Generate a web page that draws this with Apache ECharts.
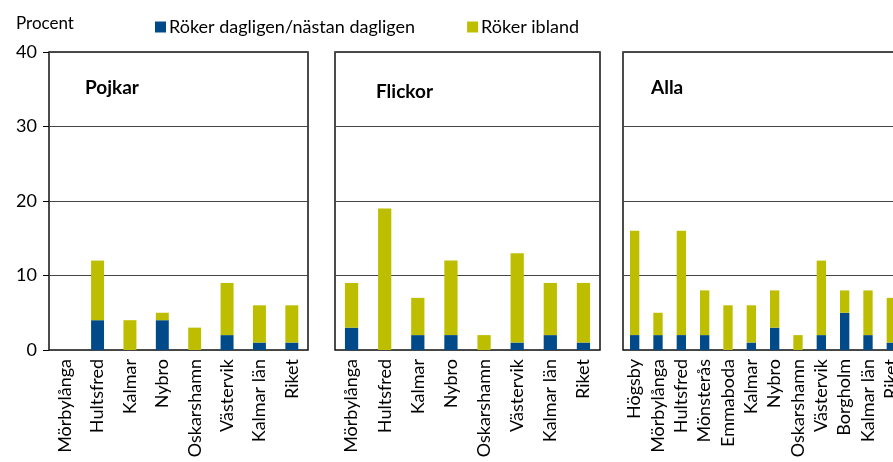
<!DOCTYPE html>
<html>
<head>
<meta charset="utf-8">
<script src="https://cdn.jsdelivr.net/npm/echarts@6/dist/echarts.min.js"></script>
<style>
  html, body { margin: 0; padding: 0; background: #fff; overflow: hidden; }
  #main { width: 910px; height: 462px; }
</style>
</head>
<body>
<div id="main"></div>
<script>
// data (percent)
const pojkarKommuner = ['Mörbylånga', 'Hultsfred', 'Kalmar', 'Nybro', 'Oskarshamn', 'Västervik', 'Kalmar län', 'Riket']
const pojkarDaglig = [0, 4, 0, 4, 0, 2, 1, 1]
const pojkarIbland = [0, 8, 4, 1, 3, 7, 5, 5]

const flickorKommuner = ['Mörbylånga', 'Hultsfred', 'Kalmar', 'Nybro', 'Oskarshamn', 'Västervik', 'Kalmar län', 'Riket']
const flickorDaglig = [3, 0, 2, 2, 0, 1, 2, 1]
const flickorIbland = [6, 19, 5, 10, 2, 12, 7, 8]

const allaKommuner = ['Högsby', 'Mörbylånga', 'Hultsfred', 'Mönsterås', 'Emmaboda', 'Kalmar', 'Nybro', 'Oskarshamn', 'Västervik', 'Borgholm', 'Kalmar län', 'Riket']
const allaDaglig = [2, 2, 2, 2, 0, 1, 3, 0, 2, 5, 2, 1]
const allaIbland = [14, 3, 14, 6, 6, 5, 5, 2, 10, 3, 6, 6]

const panelTitles = ['Pojkar', 'Flickor', 'Alla']
const seriesNames = ['Röker dagligen/nästan dagligen', 'Röker ibland']

const font = 'Lato, "Open Sans", sans-serif'
const blue = '#004a8a'
const yellow = '#bebe00'

// the chart is a bit wider than the window, the Alla panel runs off the right edge
const chart = echarts.init(document.getElementById('main'))

const grids = [
  { left: 49, top: 52, width: 259, height: 298 },
  { left: 335, top: 52, width: 265, height: 298 },
  { left: 623, top: 52, width: 280, height: 298 }
]
const cats = [pojkarKommuner, flickorKommuner, allaKommuner]
const daglig = [pojkarDaglig, flickorDaglig, allaDaglig]
const ibland = [pojkarIbland, flickorIbland, allaIbland]

const xAxes = cats.map((c, i) => ({
  type: 'category',
  gridIndex: i,
  data: c,
  axisLine: { show: false },
  axisTick: { show: false },
  axisLabel: {
    rotate: 90,
    interval: 0,
    margin: 9,
    color: '#000',
    fontFamily: font,
    fontSize: 18
  }
}))

const yAxes = cats.map((c, i) => ({
  type: 'value',
  gridIndex: i,
  min: 0,
  max: 40,
  interval: 10,
  axisLine: { show: false },
  axisTick: { show: i === 0, length: 6, lineStyle: { color: '#000' } },
  axisLabel: {
    show: i === 0,
    color: '#000',
    fontFamily: font,
    fontSize: 18,
    margin: 12
  },
  splitLine: { lineStyle: { color: '#444', width: 1.2 } }
}))

const series = []
cats.forEach((c, i) => {
  series.push({
    name: seriesNames[0],
    type: 'bar',
    stack: 'p' + i,
    xAxisIndex: i,
    yAxisIndex: i,
    barWidth: '40%',
    itemStyle: { color: blue },
    data: daglig[i]
  })
  series.push({
    name: seriesNames[1],
    type: 'bar',
    stack: 'p' + i,
    xAxisIndex: i,
    yAxisIndex: i,
    barWidth: '40%',
    itemStyle: { color: yellow },
    data: ibland[i]
  })
})

const titlePos = [[80, 73], [371, 77], [646, 73]]

const option = {
  animation: false,
  backgroundColor: '#fff',
  title: [
    { text: 'Procent', left: 11, top: 10, textStyle: { fontFamily: font, fontSize: 17, fontWeight: 'normal', color: '#000' } }
  ].concat(panelTitles.map((t, i) => ({
    text: t,
    left: titlePos[i][0],
    top: titlePos[i][1],
    textStyle: { fontFamily: font, fontSize: 19, fontWeight: 'bold', color: '#000' }
  }))),
  legend: {
    data: seriesNames,
    left: 150,
    top: 13,
    itemWidth: 11,
    itemHeight: 11,
    itemGap: 52,
    icon: 'rect',
    textStyle: { fontFamily: font, fontSize: 18, color: '#000', padding: [0, 0, 0, -2] }
  },
  grid: grids.map(g => Object.assign({ show: true, borderColor: '#111', borderWidth: 1.5, backgroundColor: 'transparent' }, g)),
  xAxis: xAxes,
  yAxis: yAxes,
  series: series
}

chart.setOption(option)
</script>
</body>
</html>
